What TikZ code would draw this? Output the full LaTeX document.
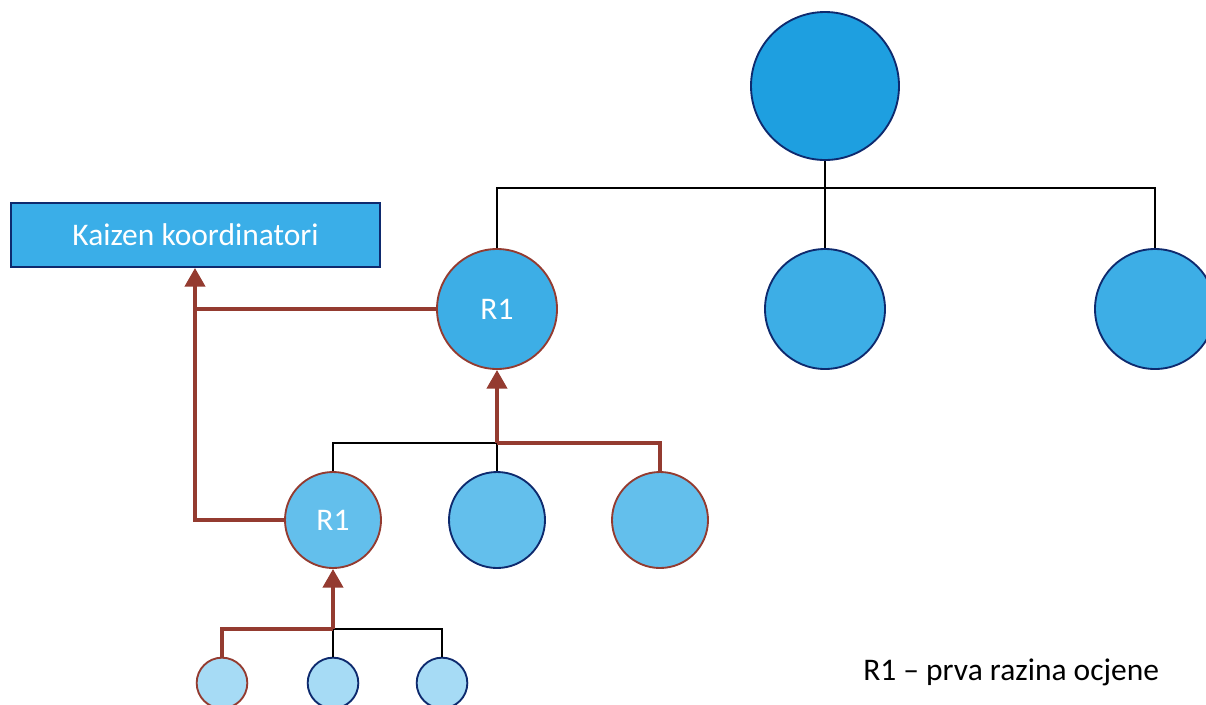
\documentclass[tikz,border=0pt]{standalone}
\usepackage{fontspec}
\setmainfont{Carlito}
\usetikzlibrary{arrows.meta}
\definecolor{navy}{HTML}{0E2A6E}
\definecolor{brownr}{HTML}{943B30}
\definecolor{cA}{HTML}{1E9FE0}
\definecolor{cB}{HTML}{3DAEE6}
\definecolor{cC}{HTML}{63BFEC}
\definecolor{cD}{HTML}{A6DBF5}
\definecolor{boxc}{HTML}{3AAEE8}
\tikzset{
  txt/.style={font=\fontsize{23.6}{28}\selectfont},
  circ/.style={circle, inner sep=0pt, line width=1.4pt, draw=navy, txt, text=white},
  lvlA/.style={circ, fill=cA, minimum size=111pt},
  lvlB/.style={circ, fill=cB, minimum size=90pt},
  lvlC/.style={circ, fill=cC, minimum size=72pt},
  lvlD/.style={circ, fill=cD, minimum size=38pt},
  rone/.style={draw=brownr},
  blk/.style={line width=1.3pt, black},
  brn/.style={line width=3pt, brownr},
  brnarr/.style={brn, -{Triangle[width=15pt,length=14pt]}},
}
\begin{document}
\begin{tikzpicture}[x=0.75pt,y=-0.75pt]
\useasboundingbox (0,0) rectangle (1206,704);
% level A
\node[lvlA] (top) at (825,86) {};
% level B
\node[lvlB, rone] (b1) at (497,309) {R1};
\node[lvlB] (b2) at (825,309) {};
\node[lvlB] (b3) at (1155,309) {};
% level C
\node[lvlC, rone] (c1) at (333,520) {R1};
\node[lvlC] (c2) at (497,520) {};
\node[lvlC, rone] (c3) at (660,520) {};
% level D
\node[lvlD, rone] (d1) at (222,683) {};
\node[lvlD] (d2) at (333,683) {};
\node[lvlD] (d3) at (442,683) {};
% box
\node[draw=navy, line width=1.4pt, fill=boxc, minimum width=277pt, minimum height=48pt, inner sep=0pt,
      text=white, txt] (kz) at (195.5,235) {Kaizen koordinatori};
% legend
\node[txt, anchor=west, inner sep=0pt] (leg) at (863,672) {R1 – prva razina ocjene};
% coordinates
\coordinate (jA) at (825,188);
\coordinate (jC) at (497,443);
\coordinate (jD) at (333,629);
\coordinate (kb) at (195,309);
\coordinate (kc) at (195,520);
% black tree connectors
\draw[blk] (top.south) -- (jA);
\draw[blk] (b1.north) |- (jA) -| (b3.north);
\draw[blk] (jA) -- (b2.north);
\draw[blk] (c1.north) |- (jC) -| (c3.north);
\draw[blk] (jC) -- (c2.north);
\draw[blk] (d1.north) |- (jD) -| (d3.north);
\draw[blk] (jD) -- (d2.north);
% brown paths
\draw[brn] (c3.north) |- (jC);
\draw[brnarr] (jC) -- (b1.south);
\draw[brn] (d1.north) |- (jD);
\draw[brnarr] (jD) -- (c1.south);
\draw[brn] (b1.west) -- (kb);
\draw[brn, line join=miter] (c1.west) -- (kc) -- (kb);
\draw[brnarr] (kb) -- (kz.south -| kb);
\end{tikzpicture}
\end{document}
